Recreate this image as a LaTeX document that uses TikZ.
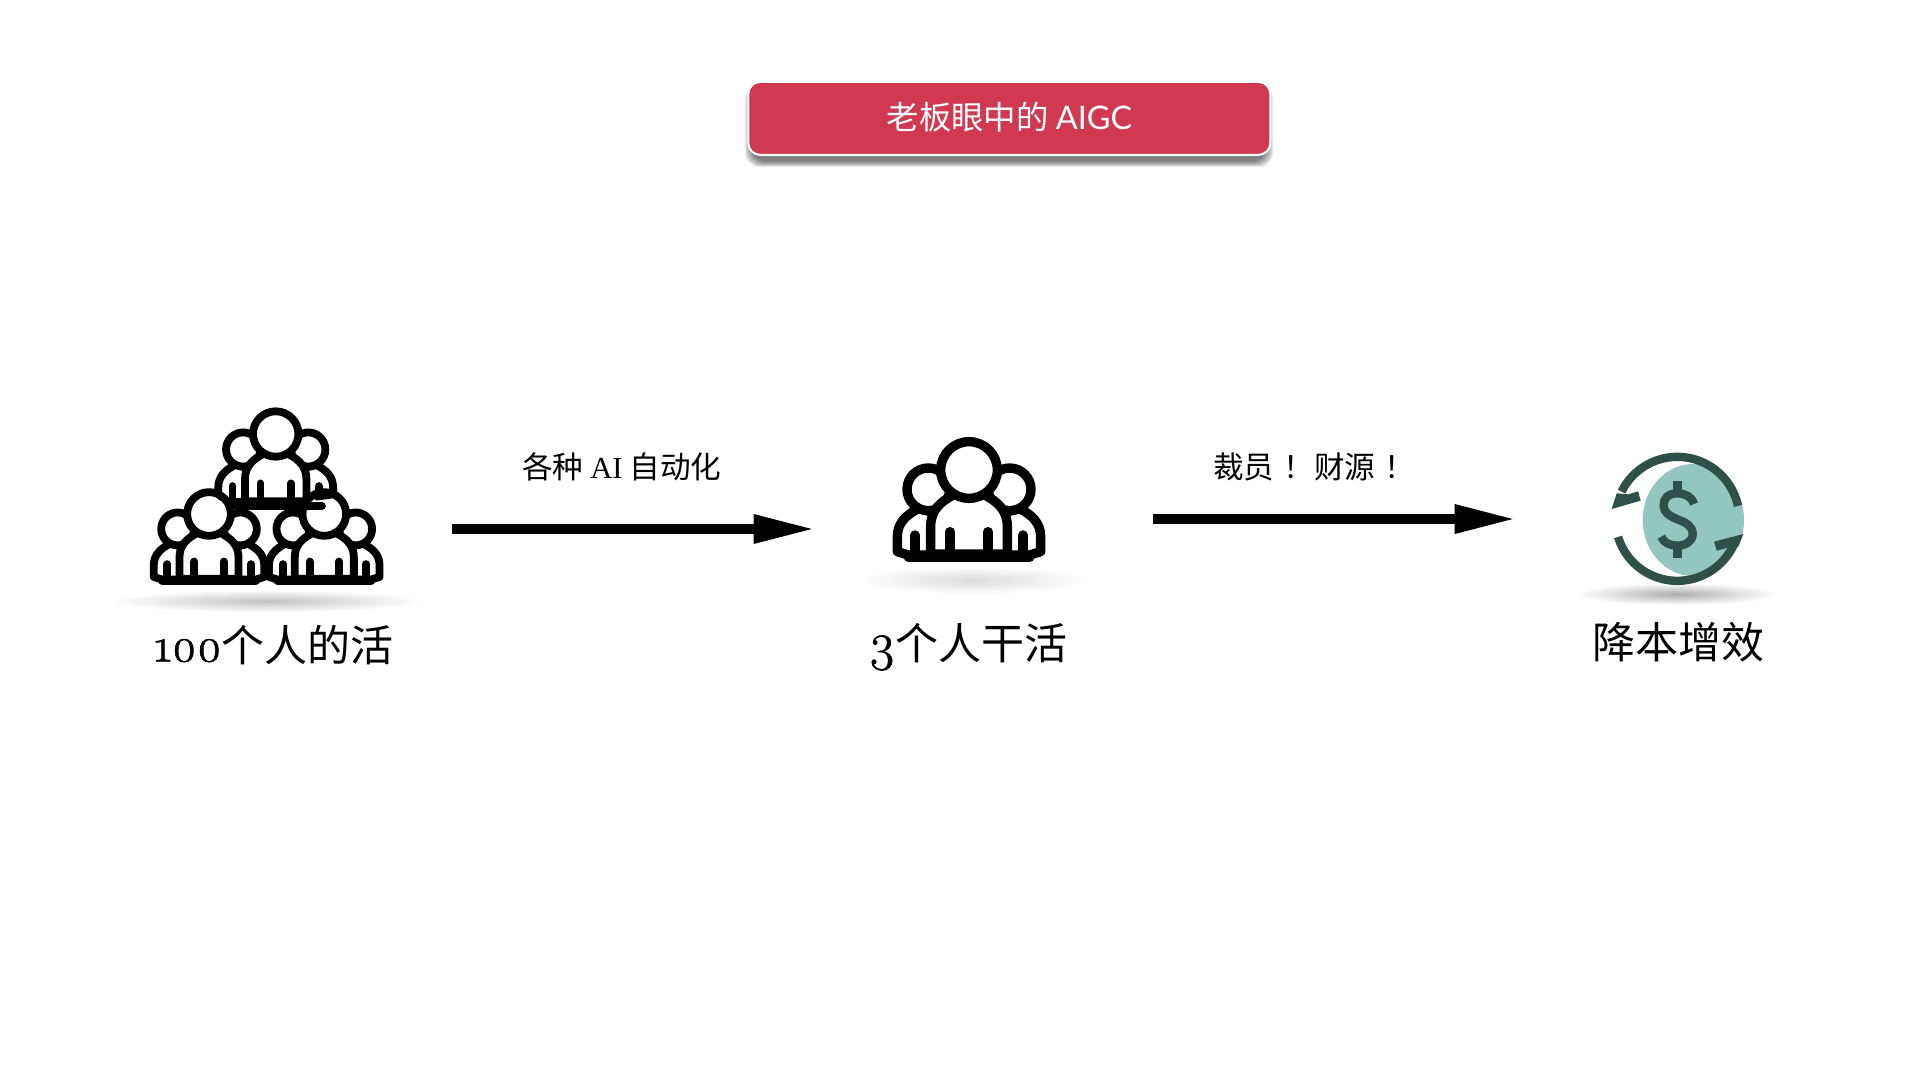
\documentclass[tikz,border=0pt]{standalone}
\usepackage{fontspec}
\usetikzlibrary{arrows.meta}
\newfontfamily\cjkfont{Noto Sans CJK SC}
\newfontfamily\latserif{Liberation Serif}
\newfontfamily\latsans{Lato}
\newfontfamily\oldnums[Numbers=OldStyle,FakeBold=1.2]{Latin Modern Roman}
\definecolor{bannerred}{HTML}{D0394F}
\definecolor{ringdark}{HTML}{2F5049}
\definecolor{cointeal}{HTML}{93C6BD}
\tikzset{
  flowarrow/.style={line width=5pt,black,-{Triangle[length=29pt,width=15pt,line width=0pt]}},
  biglabel/.style={inner sep=0pt,font=\fontsize{21.5}{24}\selectfont\cjkfont},
  arrowlabel/.style={inner sep=0pt,font=\fontsize{15.3}{18}\selectfont\cjkfont},
  iconline/.style={black,line cap=round,line join=round},
}
% #1 x, #2 y, #3 scale, #4 line width
\newcommand{\peoplegroup}[4]{%
  \begin{scope}[shift={(#1,#2)},scale=#3,iconline,line width=#4,fill=white]
    \foreach \sx in {-1,1}{
      \begin{scope}[xscale=\sx]
        \filldraw (-215,245) -- (-215,200) .. controls (-215,160) and (-190,135) .. (-150,115) -- (-100,130) -- (-100,255) -- (-182,255) -- cycle;
        \filldraw (-122,58) circle[radius=64];
        \draw (-162,195) -- (-162,252);
      \end{scope}
    }
    \filldraw (-115,252) -- (-115,170) .. controls (-115,120) and (-85,95) .. (-47,75) -- (47,75) .. controls (85,95) and (115,120) .. (115,170) -- (115,252) -- cycle;
    \draw (-57,185) -- (-57,252);
    \draw (57,185) -- (57,252);
    \filldraw (0,0) circle[radius=85];
    \draw (-182,262) -- (182,262);
  \end{scope}
}
\begin{document}
\begin{tikzpicture}[x=0.5pt,y=-0.5pt]
\useasboundingbox (0,0) rectangle (1920,1080);
\fill[white] (0,0) rectangle (1920,1080);

% banner
\foreach \g in {0,1,...,7}{
  \fill[black,opacity=0.08,rounded corners=7pt] (745+\g,85+\g) rectangle (1273-\g,167-\g*0.8);
}
\node[draw=white,line width=1pt,fill=bannerred,rounded corners=6pt,minimum width=261pt,minimum height=36.5pt,inner sep=0pt] (banner) at (1009.3,118.4) {};
\node[inner sep=0pt,font=\fontsize{16.2}{19}\selectfont\cjkfont,text=white] (bannertext) at (1009.5,117.5) {老板眼中的 {\latsans AIGC}};

% ground shadows
\shade[inner color=black!24,outer color=white] (266.7,601) ellipse[x radius=155,y radius=11];
\shade[inner color=black!14,outer color=white] (973,580) ellipse[x radius=115,y radius=14];
\shade[inner color=black!32,outer color=white] (1676.7,594) ellipse[x radius=100,y radius=11];

% icons
\peoplegroup{275.7}{434}{0.267}{3.9pt}
\peoplegroup{209}{514}{0.257}{3.9pt}
\peoplegroup{324.3}{514}{0.257}{3.9pt}
\draw[iconline,line width=3.9pt] (237,506) -- (322,506);
\draw[iconline,line width=2pt] (316.7,498.5) -- (335,496);
\draw[iconline,line width=3pt] (220,497) -- (231,502);
\peoplegroup{969}{470}{0.3333}{4.7pt}

% money icon
\begin{scope}[shift={(1570,430)},scale=1/3]
  \fill[cointeal] (370,270) ellipse[x radius=152,y radius=168];
  \draw[ringdark,line width=4.2pt] plot[domain=-12:-154,samples=50] ({322+186*cos(\x)},{266.5+186*sin(\x)});
  \draw[ringdark,line width=4.2pt] plot[domain=163:22,samples=50] ({322+186*cos(\x)},{266.5+186*sin(\x)});
  \fill[ringdark] (125,237) -- (212,212) -- (204,184) -- (175,193) -- (140,190) -- cycle;
  \fill[ringdark] (520,312) -- (432,335) -- (440,362) -- (470,354) -- (505,350) -- cycle;
  \draw[ringdark,line width=4.2pt] (372,222) .. controls (365,200) and (345,190) .. (322,190) .. controls (295,190) and (281,205) .. (281,225) .. controls (281,250) and (300,258) .. (322,268) .. controls (350,278) and (368,290) .. (368,312) .. controls (368,335) and (345,347) .. (322,347) .. controls (300,347) and (280,338) .. (274,320);
  \fill[ringdark] (308,153) rectangle (337,185);
  \fill[ringdark] (308,352) rectangle (337,385);
\end{scope}

% labels
\node[biglabel] (lblA) at (274,645) {{\fontsize{24}{26}\selectfont\oldnums 100}个人的活};
\node[biglabel] (lblB) at (968,647) {{\fontsize{26}{26}\selectfont\oldnums 3}个人干活};
\node[biglabel] (lblC) at (1678,642) {降本增效};
\node[arrowlabel] (lblD) at (621.7,466.7) {各种 {\latserif AI} 自动化};
\node[arrowlabel] (lblE) at (1314,466.7) {裁员\kern.3em！财源\kern.3em！};

% connectors
\coordinate (a1s) at (452,529);
\coordinate (a1e) at (811.7,529);
\coordinate (a2s) at (1153,519);
\coordinate (a2e) at (1512.7,519);
\draw[flowarrow] (a1s) -- (a1e);
\draw[flowarrow] (a2s) -- (a2e);
\end{tikzpicture}
\end{document}
